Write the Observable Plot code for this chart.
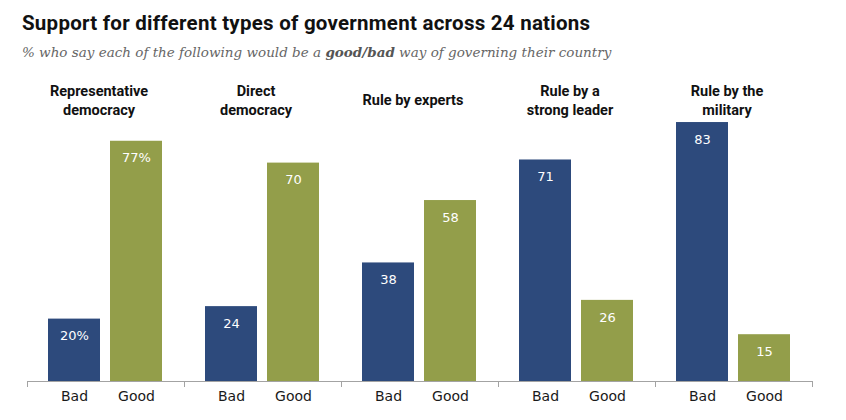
<!DOCTYPE html>
<html>
<head>
<meta charset="utf-8">
<script src="https://cdn.jsdelivr.net/npm/d3@7"></script>
<script src="https://cdn.jsdelivr.net/npm/@observablehq/plot@0.6"></script>
<style>
  html, body { margin: 0; padding: 0; background: #fff; }
  #wrap { width: 846px; height: 420px; position: relative; overflow: hidden; }
  #title { position: absolute; left: 22px; top: 10px; height: 26px; line-height: 26px;
    font-family: Roboto, "Liberation Sans", sans-serif; font-weight: 700; font-size: 20.5px; letter-spacing: 0.25px; color: #111; white-space: nowrap; }
  #subtitle { position: absolute; left: 22px; top: 43px; height: 18px; line-height: 18px;
    font-family: "DejaVu Serif", "Liberation Serif", serif; font-style: italic; font-size: 13.5px; color: #666; white-space: nowrap; }
  #subtitle b { color: #555; }
  #chart { position: absolute; left: 0; top: 69px; }
  #chart g[aria-label="headers"] text { letter-spacing: 0.5px; }
</style>
</head>
<body>
<div id="wrap">
  <div id="title">Support for different types of government across 24 nations</div>
  <div id="subtitle">% who say each of the following would be a <b>good/bad</b> way of governing their country</div>
  <div id="chart"></div>
</div>
<script>
const categories = ["Representative democracy", "Direct democracy", "Rule by experts", "Rule by a strong leader", "Rule by the military"];
const headerLabels = ["Representative\ndemocracy", "Direct\ndemocracy", "Rule by experts", "Rule by a\nstrong leader", "Rule by the\nmilitary"];
const responses = ["Bad", "Good"];
const badValues = [20, 24, 38, 71, 83];
const goodValues = [77, 70, 58, 26, 15];

const navy = "#2d4a7c";
const olive = "#939e4a";

const data = [];
categories.forEach((c, i) => {
  data.push({cat: c, resp: "Bad", value: badValues[i]});
  data.push({cat: c, resp: "Good", value: goodValues[i]});
});
const headers = categories.map((c, i) => ({cat: c, label: headerLabels[i]}));

const chart = Plot.plot({
  width: 846,
  height: 351,
  marginLeft: 25,
  marginRight: 33,
  marginTop: 0,
  marginBottom: 39,
  style: {fontFamily: "'DejaVu Sans', Verdana, sans-serif", background: "transparent"},
  fx: {domain: categories, padding: 0, axis: null, label: null},
  x: {domain: responses, paddingInner: 0.16, paddingOuter: 0.33, label: null},
  y: {domain: [0, 100], axis: null},
  color: {domain: responses, range: [navy, olive]},
  marks: [
    Plot.barY(data, {fx: "cat", x: "resp", y: "value", fill: "resp"}),
    Plot.ruleY([0], {stroke: "#a3a3a3", strokeWidth: 1.2}),
    Plot.frame({anchor: "left", stroke: "#a3a3a3", insetTop: 312, insetBottom: -5}),
    Plot.frame({anchor: "right", stroke: "#a3a3a3", insetTop: 312, insetBottom: -5}),
    Plot.axisX({tickSize: 0, tickPadding: 10, fontSize: 14, fill: "#1a1a1a", label: null}),
    Plot.text(data, {
      fx: "cat", x: "resp", y: "value",
      text: d => d.cat === categories[0] ? d.value + "%" : String(d.value),
      dy: 17, fill: "white", fontSize: 13
    }),
    Plot.text(headers, {
      ariaLabel: "headers",
      fx: "cat", text: "label", frameAnchor: "top", dx: -7, dy: 30, lineAnchor: "middle",
      lineHeight: 1.27, fontSize: 14.5, fontWeight: "bold", fill: "#111",
      fontFamily: "Roboto, 'Liberation Sans', sans-serif"
    })
  ]
});
document.getElementById("chart").appendChild(chart);
</script>
</body>
</html>
